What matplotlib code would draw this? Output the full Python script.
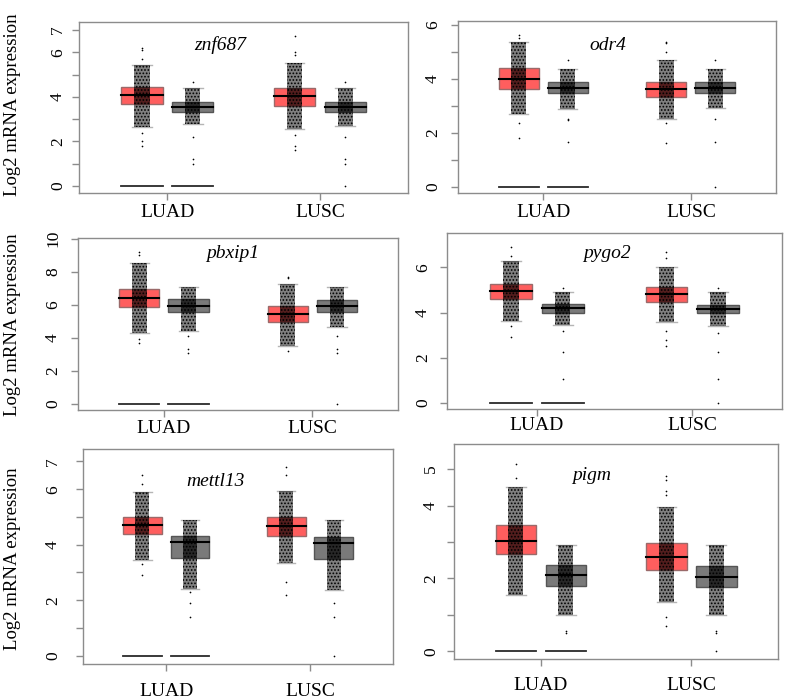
import matplotlib
matplotlib.use('Agg')
import matplotlib.pyplot as plt
from matplotlib.patches import Rectangle
from matplotlib.transforms import offset_copy

plt.rcParams['font.family'] = ['Liberation Serif', 'DejaVu Serif']
plt.rcParams['hatch.linewidth'] = 0.8

# six genes, four groups each: LUAD tumor, LUAD normal, LUSC tumor, LUSC normal
genes = ['znf687', 'odr4', 'pbxip1', 'pygo2', 'mettl13', 'pigm']
cancers = ['LUAD', 'LUSC']

q1 = [[3.68, 3.33, 3.59, 3.33],
      [3.63, 3.45, 3.30, 3.45],
      [5.85, 5.57, 4.94, 5.55],
      [4.62, 3.99, 4.48, 3.97],
      [4.38, 3.53, 4.33, 3.50],
      [2.66, 1.80, 2.22, 1.77]]
median = [[4.10, 3.56, 4.04, 3.56],
          [3.98, 3.65, 3.60, 3.65],
          [6.42, 5.95, 5.43, 5.93],
          [4.95, 4.19, 4.83, 4.16],
          [4.70, 4.09, 4.69, 4.05],
          [3.03, 2.09, 2.60, 2.05]]
q3 = [[4.43, 3.75, 4.38, 3.75],
      [4.40, 3.86, 3.86, 3.86],
      [6.95, 6.32, 5.93, 6.28],
      [5.28, 4.37, 5.14, 4.34],
      [5.01, 4.30, 5.01, 4.29],
      [3.46, 2.37, 2.97, 2.33]]
whisk_lo = [[2.65, 2.77, 2.54, 2.70],
            [2.69, 2.87, 2.50, 2.92],
            [4.27, 4.41, 3.52, 4.64],
            [3.64, 3.45, 3.57, 3.39],
            [3.45, 2.40, 3.33, 2.37],
            [1.54, 1.01, 1.35, 1.01]]
whisk_hi = [[5.43, 4.38, 5.50, 4.38],
            [5.37, 4.37, 4.67, 4.37],
            [8.52, 7.07, 7.25, 7.07],
            [6.27, 4.89, 6.04, 4.89],
            [5.91, 4.88, 5.95, 4.88],
            [4.50, 2.92, 3.97, 2.92]]
outliers = [[[6.2, 6.1, 5.7, 2.4, 2.0, 1.8], [4.65, 2.2, 1.2, 1.0], [6.75, 6.0, 5.9, 2.3, 1.8, 1.6], [4.65, 2.2, 1.2, 1.0, 0.0]],
            [[5.6, 5.5, 2.35, 1.8], [4.7, 2.5, 2.45, 1.65], [5.35, 5.3, 5.0, 2.35, 1.6], [4.7, 2.5, 1.65, 0.0]],
            [[9.2, 9.0, 3.9, 3.7], [4.1, 3.3, 3.1], [7.7, 7.6, 3.2], [4.1, 3.3, 3.1, 0.0]],
            [[6.9, 6.5, 3.4, 2.9], [5.1, 3.2, 2.25, 1.05], [6.7, 6.4, 3.2, 2.8, 2.5], [5.1, 3.1, 2.25, 1.05, 0.0]],
            [[6.5, 6.2, 3.3, 2.9], [2.3, 1.9, 1.4], [6.8, 6.5, 2.65, 2.2], [1.9, 1.4, 0.0]],
            [[5.15, 4.75], [0.55, 0.5], [4.8, 4.7, 4.4, 4.3, 0.95, 0.7], [0.55, 0.5, 0.0]]]
# flat boxes at 0 drawn under LUAD (tumor and normal)
zero_box = [0.0, 0.0]

yticks = [[0, 1, 2, 3, 4, 5, 6, 7],
          [0, 1, 2, 3, 4, 5, 6],
          [0, 2, 4, 6, 8, 10],
          [0, 2, 4, 6],
          [0, 1, 2, 3, 4, 5, 6, 7],
          [0, 1, 2, 3, 4, 5]]
ytick_labels = [['0', '', '2', '', '4', '', '6', '7'],
                ['0', '', '2', '', '4', '', '6'],
                ['0', '2', '4', '6', '8', '10'],
                ['0', '2', '4', '6'],
                ['0', '', '2', '', '4', '', '6', '7'],
                ['0', '', '2', '', '4', '5']]

# layout (pixels of a 787x700 canvas): left, top, right, bottom
W, H = 787, 700
rects = [(79, 22, 408, 193), (458, 21, 776, 193),
         (78, 238, 398, 410), (447, 233, 782, 409),
         (83, 449, 393, 664), (454, 444, 778, 659)]
ylims = [(-0.31, 7.36), (-0.24, 6.13), (-0.38, 10.04),
         (-0.28, 7.53), (-0.30, 7.45), (-0.21, 5.69)]
title_xy = [(220, 45), (608, 45), (233, 253), (607, 253), (215, 481), (592, 475)]
xpad = [3, 3, 2, 1, 9, 8]
ylab_dx = [21, 25, 25, 24, 30, 23]

red = '#ff5e5e'
grey = '#7a7a7a'
spine = '#8c8c8c'

fig = plt.figure(figsize=(W / 100, H / 100), dpi=100)
ylab_texts = []

for i, gene in enumerate(genes):
    l, t, r, b = rects[i]
    ax = fig.add_axes([l / W, 1 - b / H, (r - l) / W, (b - t) / H])
    xs = [1 - 0.166, 1 + 0.166, 2 - 0.166, 2 + 0.166]
    for g in range(4):
        x = xs[g]
        if g % 2 == 0:
            fill, edge = red, '#9a6a6a'
        else:
            fill, edge = grey, '#555555'
        ax.add_patch(Rectangle((x - 0.135, q1[i][g]), 0.27, q3[i][g] - q1[i][g],
                               facecolor=fill, edgecolor=edge, lw=1, zorder=2))
        # jitter cloud shown as a speckled band over the whisker range
        ax.add_patch(Rectangle((x - 0.05, whisk_lo[i][g]), 0.1, whisk_hi[i][g] - whisk_lo[i][g],
                               facecolor=(0, 0, 0, 0.5), edgecolor='black', lw=0,
                               hatch='.....', zorder=3))
        ax.add_patch(Rectangle((x - 0.05, q1[i][g]), 0.1, q3[i][g] - q1[i][g],
                               facecolor=(0, 0, 0, 0.35), lw=0, zorder=3))
        ax.plot([x - 0.135, x + 0.135], [median[i][g]] * 2, color='black', lw=1.5, zorder=4)
        for w in (whisk_lo[i][g], whisk_hi[i][g]):
            ax.plot([x - 0.065, x + 0.065], [w, w], color='#b5b5b5', lw=1, zorder=2)
        ax.scatter([x] * len(outliers[i][g]), outliers[i][g], s=1.5, color='black',
                   lw=0, zorder=4)
    for g, v in enumerate(zero_box):
        ax.plot([xs[g] - 0.135, xs[g] + 0.135], [v, v], color='#2a2a2a', lw=1.3, zorder=4)

    ax.set_xlim(0.422, 2.577)
    ax.set_ylim(*ylims[i])
    ax.set_xticks([1, 2])
    ax.set_xticklabels(cancers, fontsize=14)
    ax.set_yticks(yticks[i])
    ax.set_yticklabels([])
    ax.tick_params(axis='both', color=spine, length=5, width=1, direction='out')
    ax.tick_params(axis='x', pad=xpad[i])
    for s in ax.spines.values():
        s.set_color(spine)
        s.set_linewidth(1)
    # R-style y tick labels, rotated to read upwards
    ytrans = offset_copy(ax.get_yaxis_transform(), fig=fig, x=-ylab_dx[i], y=0, units='dots')
    for v, lab in zip(yticks[i], ytick_labels[i]):
        txt = ax.text(0, v, lab, transform=ytrans, rotation=90, fontsize=12.5,
                      ha='center', va='center', clip_on=False)
        ylab_texts.append(txt)
    tx, ty = title_xy[i]
    fig.text(tx / W, 1 - ty / H, gene, style='italic', fontsize=14,
             ha='center', va='center')

for cy in (105, 325, 559):
    fig.text(13 / W, 1 - cy / H, 'Log2 mRNA expression', rotation=90,
             fontsize=13.5, ha='center', va='center')

fig.savefig('out.png', dpi=100)

# sanity check that the rotated tick labels really are rotated
fig.canvas.draw()
for txt in ylab_texts:
    if txt.get_text() == '10':
        bb = txt.get_window_extent()
        if bb.width > bb.height:
            raise RuntimeError('label not rotated: %s' % bb)
